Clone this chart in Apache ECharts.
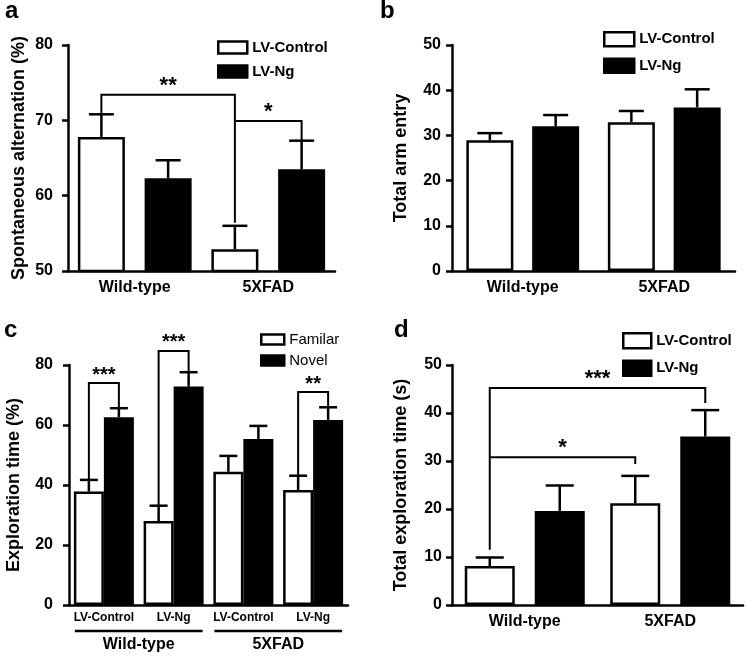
<!DOCTYPE html>
<html><head><meta charset="utf-8">
<script src="https://cdn.jsdelivr.net/npm/echarts@6/dist/echarts.min.js"></script>
<style>html,body{margin:0;padding:0;background:#fff}#c{width:746px;height:657px}</style>
</head><body><div id="c"></div>
<script>
// ---------- data ----------
const groups = ['Wild-type', '5XFAD'];
// panel a: spontaneous alternation (%)
const aControl = [67.8, 52.9];
const aControlErr = [70.8, 56.0];
const aNg = [62.3, 63.5];
const aNgErr = [64.7, 67.3];
const aTicks = { min: 50, max: 80, interval: 10 };
// brackets: [leftCat, leftSide, rightCat, rightSide, top, leftBottom, rightBottom]
const aBrackets = [[0, 0, 1, 0, 73.4, 70.8, 56.4], [1, 0, 1, 1, 69.9, 69.9, 67.4]];
const aBracketLabels = ['**', '*'];
// panel b: total arm entry
const bControl = [28.9, 32.9];
const bControlErr = [30.5, 35.4];
const bNg = [32.0, 36.2];
const bNgErr = [34.5, 40.2];
const bTicks = { min: 0, max: 50, interval: 10 };
// panel c: exploration time (%)
const cCats = ['LV-Control', 'LV-Ng', 'LV-Control', 'LV-Ng'];
const cFam = [37.8, 28.0, 44.4, 38.3];
const cFamErr = [41.7, 33.1, 49.7, 43.1];
const cNov = [62.6, 72.8, 55.3, 61.7];
const cNovErr = [65.6, 77.6, 59.7, 65.9];
const cTicks = { min: 0, max: 80, interval: 20 };
const cGroupSpans = [[0, 1], [2, 3]];
const cBrackets = [[0, 0, 0, 1, 74, 41.7, 65.6], [1, 0, 1, 1, 84.7, 33.1, 77.6], [3, 0, 3, 1, 71, 43.1, 65.9]];
const cBracketLabels = ['***', '***', '**'];
// panel d: total exploration time (s)
const dControl = [8.1, 21.2];
const dControlErr = [9.9, 26.9];
const dNg = [19.6, 35.1];
const dNgErr = [24.9, 40.6];
const dTicks = { min: 0, max: 50, interval: 10 };
const dBrackets = [[0, 0, 1, 1, 45.2, 11.5, 42.1], [0, 0, 1, 0, 30.8, 30.8, 29.4]];
const dBracketLabels = ['***', '*'];

// ---------- styles ----------
const FF = 'Arial, "Liberation Sans", sans-serif';
const LW = 2.5;
const panels = {
  a: { grid: { left: 68, top: 45, width: 267, height: 226 }, bw: 47, gap: 0.42, cap: 25 },
  b: { grid: { left: 452, top: 45, width: 283, height: 226 }, bw: 47, gap: 0.40, cap: 25 },
  c: { grid: { left: 69, top: 365, width: 279, height: 240 }, bw: 30, gap: 0.0, cap: 18 },
  d: { grid: { left: 452, top: 365, width: 291, height: 240 }, bw: 50, gap: 0.40, cap: 28 }
};
function off(p) { return p.bw * (1 + p.gap) / 2; }

function barSeries(name, data, xi, yi, color, p) {
  return {
    type: 'bar', name, data, xAxisIndex: xi, yAxisIndex: yi,
    barWidth: p.bw, barGap: (p.gap * 100) + '%',
    itemStyle: { color, borderColor: '#000', borderWidth: LW },
    silent: true, z: 2
  };
}
function errSeries(top, err, xi, yi, side, p) {
  const shift = side ? off(p) : -off(p);
  return {
    type: 'custom', xAxisIndex: xi, yAxisIndex: yi, silent: true, z: 3,
    data: top.map((v, i) => [i, v, err[i]]),
    encode: { x: 0, y: [1, 2] },
    renderItem: (params, api) => {
      const p1 = api.coord([api.value(0), api.value(1)]);
      const p2 = api.coord([api.value(0), api.value(2)]);
      const x = p1[0] + shift;
      return {
        type: 'group', children: [
          { type: 'line', shape: { x1: x, y1: p1[1], x2: x, y2: p2[1] }, style: { stroke: '#000', lineWidth: LW } },
          { type: 'line', shape: { x1: x - p.cap / 2, y1: p2[1], x2: x + p.cap / 2, y2: p2[1] }, style: { stroke: '#000', lineWidth: LW } }
        ]
      };
    }
  };
}
function bracketSeries(rows, labels, xi, yi, p, fs) {
  const o = off(p);
  return {
    type: 'custom', xAxisIndex: xi, yAxisIndex: yi, silent: true, z: 4, clip: false,
    data: rows,
    encode: { x: [0, 2], y: [4, 5, 6] },
    renderItem: (params, api) => {
      const lx = api.coord([api.value(0), api.value(4)])[0] + (api.value(1) ? o : -o);
      const rx = api.coord([api.value(2), api.value(4)])[0] + (api.value(3) ? o : -o);
      const yt = api.coord([api.value(0), api.value(4)])[1];
      const yl = api.coord([api.value(0), api.value(5)])[1];
      const yr = api.coord([api.value(2), api.value(6)])[1];
      return {
        type: 'group', children: [
          { type: 'polyline', shape: { points: [[lx, yl], [lx, yt], [rx, yt], [rx, yr]] }, style: { stroke: '#000', lineWidth: 2, fill: null } },
          { type: 'text', x: (lx + rx) / 2, y: yt + 2, style: { text: labels[params.dataIndex], align: 'center', verticalAlign: 'bottom', font: 'bold ' + fs + 'px ' + FF, fill: '#000' } }
        ]
      };
    }
  };
}
function underlineSeries(spans, xi, yi) {
  return {
    type: 'custom', xAxisIndex: xi, yAxisIndex: yi, silent: true, clip: false,
    data: spans,
    encode: { x: [0, 1] },
    renderItem: (params, api) => {
      const a = api.coord([api.value(0), cTicks.min]);
      const b = api.coord([api.value(1), cTicks.min]);
      const y = a[1] + 26;
      return { type: 'line', shape: { x1: a[0] - 29, y1: y, x2: b[0] + 29, y2: y }, style: { stroke: '#000', lineWidth: 2.5 } };
    }
  };
}

function yAxis(gi, t, name, nameGap, margin) {
  return {
    type: 'value', gridIndex: gi, min: t.min, max: t.max, interval: t.interval,
    name, nameLocation: 'middle', nameGap,
    nameTextStyle: { fontFamily: FF, fontWeight: 'bold', fontSize: 18, color: '#000' },
    axisLine: { show: true, lineStyle: { color: '#000', width: LW } },
    axisTick: { show: true, length: 6, lineStyle: { color: '#000', width: LW } },
    axisLabel: { fontFamily: FF, fontWeight: 'bold', fontSize: 16, color: '#000', margin },
    splitLine: { show: false }
  };
}
function xAxis(gi, data, fs, margin) {
  return {
    type: 'category', gridIndex: gi, data,
    axisLine: { show: true, lineStyle: { color: '#000', width: LW } },
    axisTick: { show: false },
    axisLabel: { fontFamily: FF, fontWeight: 'bold', fontSize: fs, color: '#000', margin, interval: 0 },
    splitLine: { show: false }
  };
}
function legend(names, left, top, w, h, gap, bold) {
  return {
    data: names, orient: 'vertical', left, top, itemWidth: w, itemHeight: h, itemGap: gap,
    icon: 'rect', selectedMode: false, padding: 0,
    itemStyle: { borderColor: '#000', borderWidth: LW },
    textStyle: { fontFamily: FF, fontWeight: bold ? 'bold' : 'normal', fontSize: 15, color: '#000' }
  };
}
function letter(t, left, top) {
  return { text: t, left, top, padding: 0, textStyle: { fontFamily: FF, fontWeight: 'bold', fontSize: 24, color: '#000' } };
}

const cAxisGroups = {
  type: 'category', gridIndex: 2, data: groups, position: 'bottom',
  axisLine: { show: false }, axisTick: { show: false }, splitLine: { show: false },
  axisLabel: { fontFamily: FF, fontWeight: 'bold', fontSize: 16, color: '#000', margin: 32, interval: 0 }
};

const option = {
  animation: false,
  backgroundColor: '#fff',
  title: [letter('a', 5, -1), letter('b', 380, -1), letter('c', 4, 318), letter('d', 394, 318)],
  grid: [panels.a.grid, panels.b.grid, panels.c.grid, panels.d.grid],
  xAxis: [
    xAxis(0, groups, 16, 9),
    xAxis(1, groups, 16, 9),
    xAxis(2, cCats, 12, 7),
    cAxisGroups,
    xAxis(3, groups, 16, 9)
  ],
  yAxis: [
    yAxis(0, aTicks, 'Spontaneous alternation (%)', 40, 15),
    yAxis(1, bTicks, 'Total arm entry', 42, 11),
    yAxis(2, cTicks, 'Exploration time (%)', 46, 16),
    yAxis(3, dTicks, 'Total exploration time (s)', 42, 10)
  ],
  legend: [
    legend(['LV-Control', 'LV-Ng'], 217, 40, 29, 12, 9, true),
    legend(['LV-Control', 'LV-Ng'], 603, 31, 30, 14, 10, true),
    legend(['Familar', 'Novel'], 260, 332, 23, 10, 6, false),
    legend(['LV-Control', 'LV-Ng'], 622, 332, 28, 15, 10, true)
  ],
  series: [
    barSeries('LV-Control', aControl, 0, 0, '#fff', panels.a),
    barSeries('LV-Ng', aNg, 0, 0, '#000', panels.a),
    errSeries(aControl, aControlErr, 0, 0, 0, panels.a),
    errSeries(aNg, aNgErr, 0, 0, 1, panels.a),
    bracketSeries(aBrackets, aBracketLabels, 0, 0, panels.a, 22),

    barSeries('LV-Control', bControl, 1, 1, '#fff', panels.b),
    barSeries('LV-Ng', bNg, 1, 1, '#000', panels.b),
    errSeries(bControl, bControlErr, 1, 1, 0, panels.b),
    errSeries(bNg, bNgErr, 1, 1, 1, panels.b),

    barSeries('Familar', cFam, 2, 2, '#fff', panels.c),
    barSeries('Novel', cNov, 2, 2, '#000', panels.c),
    errSeries(cFam, cFamErr, 2, 2, 0, panels.c),
    errSeries(cNov, cNovErr, 2, 2, 1, panels.c),
    bracketSeries(cBrackets, cBracketLabels, 2, 2, panels.c, 20),
    underlineSeries(cGroupSpans, 2, 2),

    barSeries('LV-Control', dControl, 4, 3, '#fff', panels.d),
    barSeries('LV-Ng', dNg, 4, 3, '#000', panels.d),
    errSeries(dControl, dControlErr, 4, 3, 0, panels.d),
    errSeries(dNg, dNgErr, 4, 3, 1, panels.d),
    bracketSeries(dBrackets, dBracketLabels, 4, 3, panels.d, 22)
  ]
};
const chart = echarts.init(document.getElementById('c'), null, { renderer: 'canvas' });
chart.setOption(option);
</script>
</body></html>
